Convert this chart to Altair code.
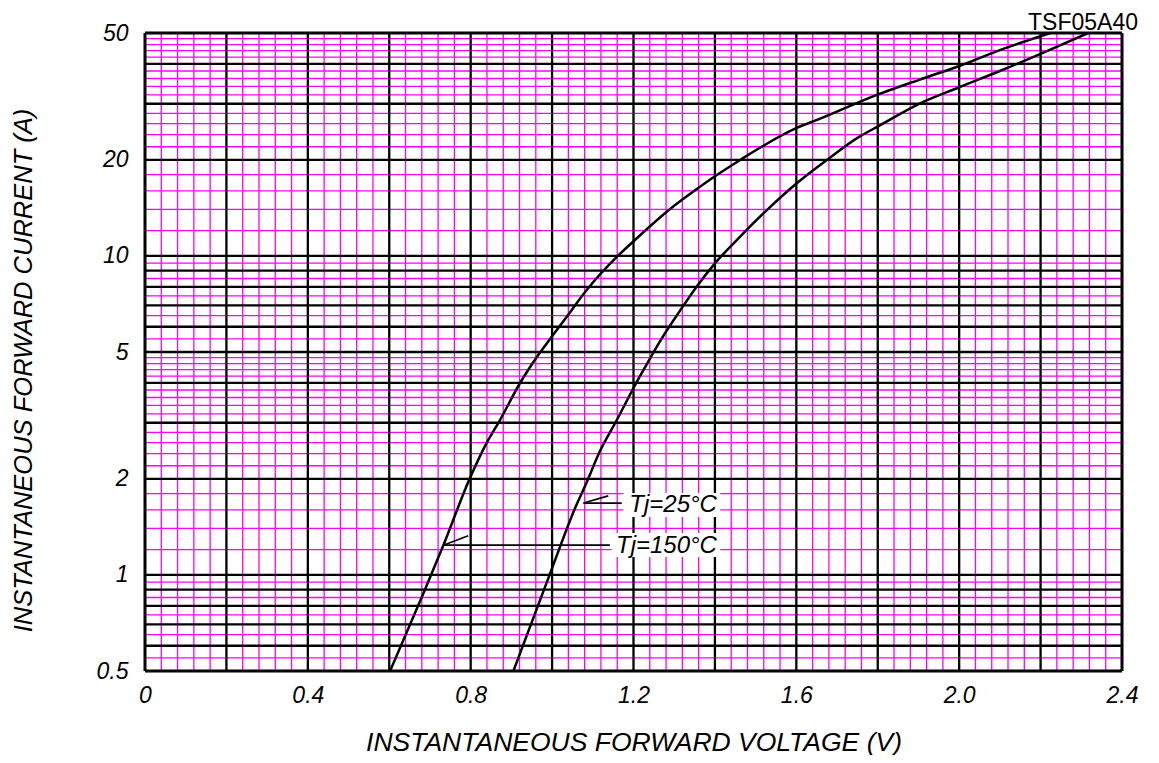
import altair as alt
import pandas as pd

# ---- data ----
v_150 = [0.602, 0.684, 0.733, 0.798, 0.839, 0.872, 0.921, 0.966, 0.999, 1.036, 1.085, 1.159,
         1.200, 1.290, 1.347, 1.400, 1.462, 1.601, 1.654, 1.801, 1.900, 2.000, 2.100, 2.224]
i_150 = [0.5, 0.876, 1.24, 2.01, 2.59, 3.06, 3.99, 4.89, 5.58, 6.45, 7.82, 9.93,
         11.12, 14.04, 15.92, 17.77, 20.0, 25.2, 26.8, 32.1, 35.6, 39.4, 44.2, 50.0]

v_25 = [0.905, 0.995, 1.060, 1.081, 1.118, 1.159, 1.204, 1.228, 1.265, 1.314, 1.355, 1.400,
        1.462, 1.527, 1.601, 1.675, 1.756, 1.801, 1.904, 2.000, 2.100, 2.200, 2.317]
i_25 = [0.5, 1.01, 1.66, 1.90, 2.45, 3.06, 3.94, 4.47, 5.40, 6.73, 8.01, 9.48,
        11.5, 13.9, 16.9, 20.0, 23.7, 25.5, 30.1, 33.8, 38.0, 43.0, 50.0]

x_ticks = [0, 0.4, 0.8, 1.2, 1.6, 2.0, 2.4]
y_ticks = [0.5, 1, 2, 5, 10, 20, 50]

x_major = [0.2, 0.4, 0.6, 0.8, 1.0, 1.2, 1.4, 1.6, 1.8, 2.0, 2.2]
x_minor = [round(k * 0.04, 2) for k in range(1, 60) if k % 5 != 0]
x_frame = [0, 2.4]

y_major = [0.6, 0.7, 0.8, 0.9, 1, 2, 3, 4, 5, 6, 7, 8, 9, 10, 20, 30, 40]
y_minor = ([0.55, 0.65, 0.75, 0.85, 0.95, 1.2, 1.4, 1.6, 1.8]
           + [round(2 + 0.2 * k, 1) for k in range(1, 15) if k % 5 != 0]
           + [5.5, 6.5, 7.5, 8.5, 9.5, 12, 14, 16, 18]
           + [22 + 2 * k for k in range(14) if (22 + 2 * k) not in (30, 40)])
y_frame = [0.5, 50]

labels = ["Tj=25°C", "Tj=150°C"]
label_v = [1.405, 1.405]
label_i = [1.66, 1.233]

# white boxes behind labels
box_v1 = [1.175, 1.146]
box_v2 = [1.413, 1.413]
box_i1 = [1.520, 1.139]
box_i2 = [1.807, 1.354]

# leader lines (tip -> end)
lead_v1 = [1.077, 1.077, 0.733, 0.733]
lead_i1 = [1.68, 1.68, 1.24, 1.24]
lead_v2 = [1.171, 1.138, 1.142, 0.794]
lead_i2 = [1.68, 1.77, 1.24, 1.328]

FONT = "Liberation Sans"

xs = alt.Scale(domain=[0, 2.4], nice=False, zero=False)
ys = alt.Scale(type="log", domain=[0.5, 50], nice=False)

xaxis = alt.Axis(values=x_ticks,
                 labelExpr="datum.value == 0 ? '0' : format(datum.value, '.1f')",
                 grid=False, domain=False, ticks=False, labelFlush=False, labelOverlap=False,
                 labelFontSize=23, labelFontStyle="italic", labelFont=FONT, labelColor="black",
                 labelPadding=13,
                 title="INSTANTANEOUS FORWARD VOLTAGE (V)", titleFontSize=26.5,
                 titleFontStyle="italic", titleFontWeight="normal", titleFont=FONT,
                 titleColor="black", titlePadding=22)
yaxis = alt.Axis(values=y_ticks, format="~g",
                 grid=False, domain=False, ticks=False, labelFlush=False, labelOverlap=False,
                 labelFontSize=23, labelFontStyle="italic", labelFont=FONT, labelColor="black",
                 labelPadding=17,
                 title="INSTANTANEOUS FORWARD CURRENT (A)", titleFontSize=25.5,
                 titleFontStyle="italic", titleFontWeight="normal", titleFont=FONT,
                 titleColor="black", titlePadding=60, titleY=337)

X = lambda f: alt.X(f"{f}:Q", scale=xs, axis=xaxis)
Y = lambda f: alt.Y(f"{f}:Q", scale=ys, axis=yaxis)

vmin = alt.Chart(pd.DataFrame({"v": x_minor})).mark_rule(color="#FF00FF", strokeWidth=1.3).encode(x=X("v"))
hmin = alt.Chart(pd.DataFrame({"i": y_minor})).mark_rule(color="#FF00FF", strokeWidth=1.3).encode(y=Y("i"))
vmaj = alt.Chart(pd.DataFrame({"v": x_major})).mark_rule(color="black", strokeWidth=2.3).encode(x=X("v"))
hmaj = alt.Chart(pd.DataFrame({"i": y_major})).mark_rule(color="black", strokeWidth=2.3).encode(y=Y("i"))
vfr = alt.Chart(pd.DataFrame({"v": x_frame})).mark_rule(color="black", strokeWidth=3).encode(x=X("v"))
hfr = alt.Chart(pd.DataFrame({"i": y_frame})).mark_rule(color="black", strokeWidth=3).encode(y=Y("i"))

boxes = alt.Chart(pd.DataFrame({"v1": box_v1, "v2": box_v2, "i1": box_i1, "i2": box_i2})).mark_rect(
    color="white").encode(x=X("v1"), x2="v2", y=Y("i1"), y2="i2")

curves_df = pd.concat([
    pd.DataFrame({"v": v_150, "i": i_150, "s": "150"}),
    pd.DataFrame({"v": v_25, "i": i_25, "s": "25"}),
])
curves = alt.Chart(curves_df).mark_line(color="black", strokeWidth=2.5, interpolate="monotone",
                                        clip=True).encode(x=X("v"), y=Y("i"), detail="s:N")

leads = alt.Chart(pd.DataFrame({"v1": lead_v1, "i1": lead_i1, "v2": lead_v2, "i2": lead_i2})).mark_rule(
    color="black", strokeWidth=1.6).encode(x=X("v1"), y=Y("i1"), x2="v2", y2="i2")

texts = alt.Chart(pd.DataFrame({"v": label_v, "i": label_i, "t": labels})).mark_text(
    align="right", baseline="middle", font=FONT, fontSize=24, fontStyle="italic", color="black"
).encode(x=X("v"), y=Y("i"), text="t:N")

chart = alt.layer(vmin, hmin, vmaj, hmaj, boxes, curves, leads, texts, vfr, hfr).properties(
    width=977, height=638,
    title=alt.TitleParams("TSF05A40", anchor="end", fontSize=23, font=FONT, fontWeight="normal",
                          fontStyle="normal", color="black", offset=-12.5),
    autosize=alt.AutoSizeParams(type="none"),
    padding={"left": 137, "top": 25, "right": 29, "bottom": 84},
    background="white",
).configure_view(stroke=None)

chart.save("out.html", embed_options={"renderer": "svg", "actions": False})
